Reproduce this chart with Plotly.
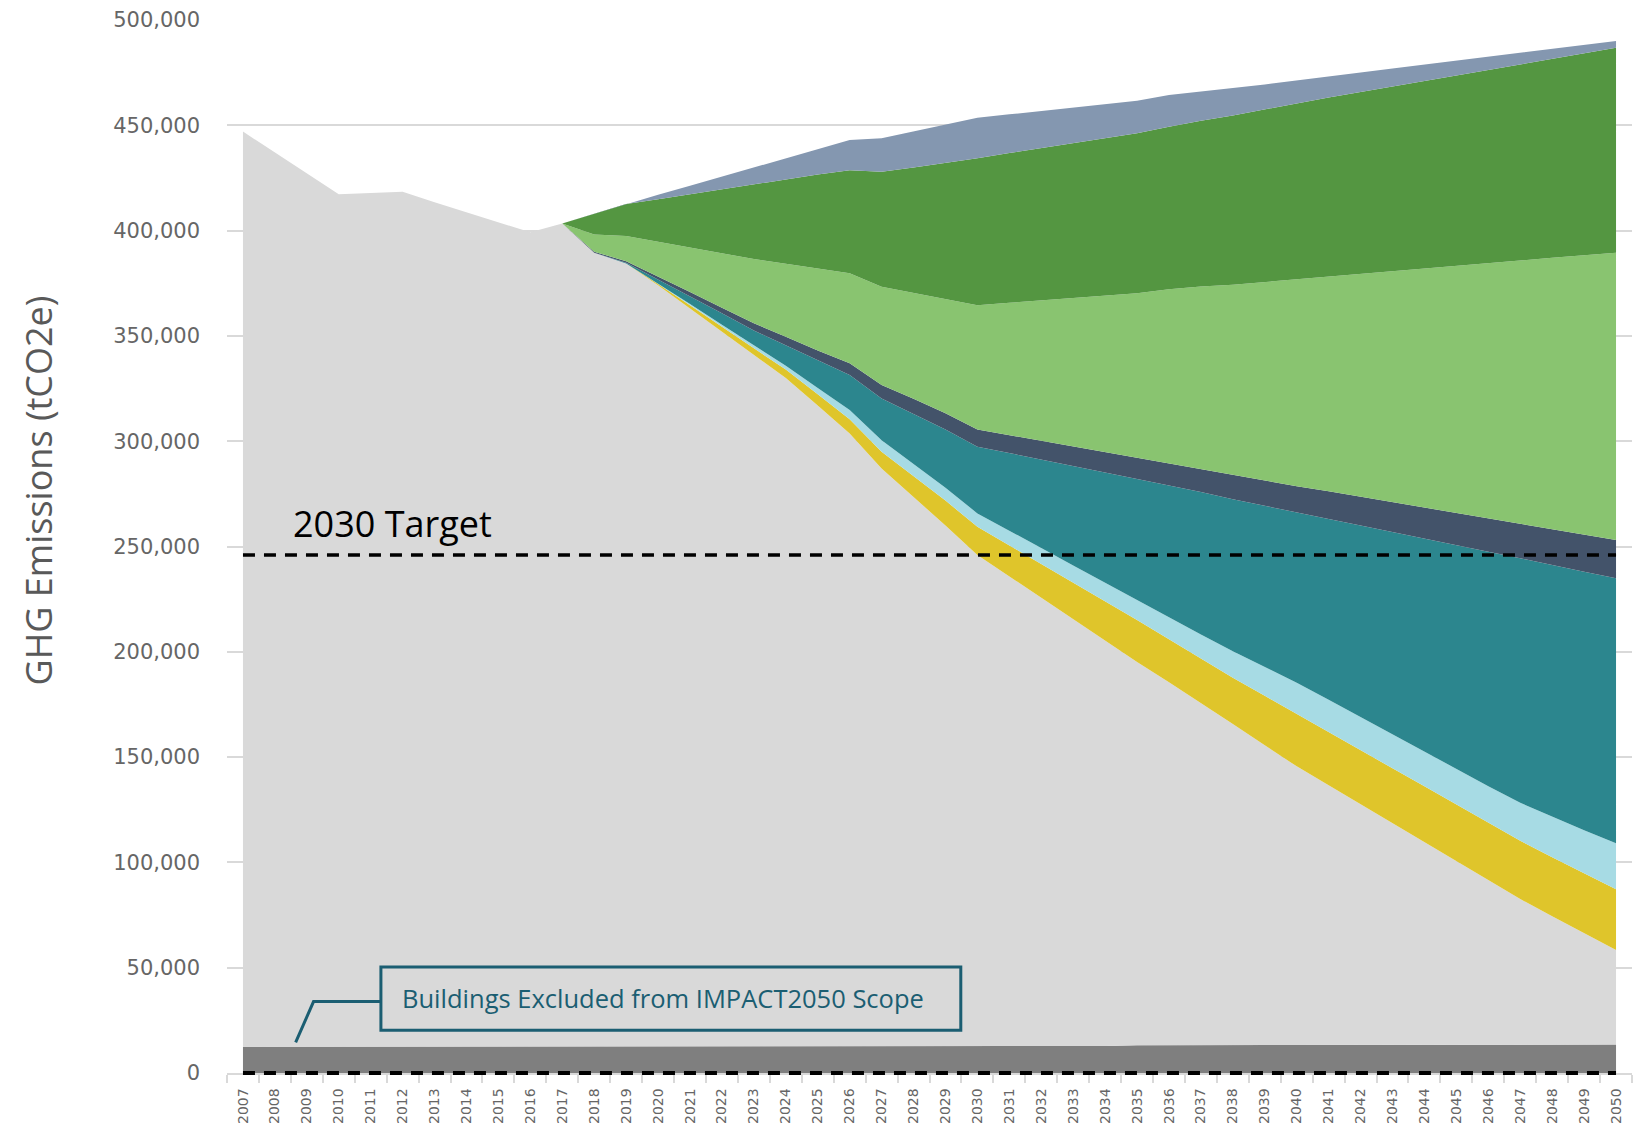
import plotly.graph_objects as go

# ---------------- data (tCO2e, values in thousands) ----------------
years = list(range(2007, 2051))
year_labels = [str(y) for y in years]

excluded_k = [12.5] * 11 + [12.8] * 17 + [13.2] * 12 + [13.5] * 4

remaining_k = [434.5, 424.5, 414.7, 404.8, 405.3, 405.9, 401.0, 396.2, 391.5, 386.7, 390.9,
               376.7, 371.6, 361.2, 350.2, 339.2, 328.2, 317.2, 304.2, 290.9, 274.2, 260.7,
               247.2, 233.2, 223.0, 212.9, 202.6, 192.4, 182.0, 172.3, 162.6, 152.5, 142.4,
               132.4, 123.4, 114.4, 105.3, 96.3, 87.5, 78.4, 69.1, 60.9, 52.8, 44.9]

yellow_k = [0] * 11 + [0, 0, 0.7, 1.5, 2.3, 3.1, 4.0, 5.3, 6.7, 8.0, 10.0, 11.8, 13.4, 14.8, 16.0,
                       17.4, 18.7, 19.9, 20.4, 20.9, 22.0, 23.5, 25.0, 25.4, 25.8, 26.2, 26.6, 26.9,
                       27.3, 27.7, 28.1, 28.5, 28.8]

lightblue_k = [0] * 11 + [0, 0, 0.3, 0.7, 1.0, 1.3, 1.8, 3.0, 4.4, 5.5, 5.8, 6.1, 6.3, 7.0, 7.6,
                          8.2, 8.8, 9.4, 10.3, 11.5, 12.6, 13.7, 14.7, 15.2, 15.6, 16.0, 16.4, 16.8,
                          17.3, 18.0, 19.2, 20.5, 21.9]

teal_k = [0] * 11 + [0, 0.3, 1.8, 3.6, 5.4, 7.2, 9.8, 13.0, 16.6, 19.8, 23.6, 27.6, 31.7, 36.8, 42.0,
                     47.2, 52.4, 57.6, 62.8, 67.7, 72.1, 76.4, 80.8, 85.9, 91.0, 96.1, 101.2, 106.2,
                     111.3, 116.1, 119.4, 122.7, 125.8]

navy_k = [0] * 11 + [0.5, 0.7, 1.4, 2.0, 2.7, 3.4, 4.0, 4.8, 5.6, 6.4, 7.2, 7.8, 8.2, 8.5, 8.9,
                     9.3, 9.6, 9.9, 10.3, 10.8, 11.4, 12.0, 12.5, 13.1, 13.6, 14.2, 14.8, 15.4,
                     16.0, 16.5, 17.1, 17.6, 18.2]

lightgreen_k = [0] * 11 + [8.2, 12.0, 16.5, 21.2, 25.8, 30.5, 34.6, 38.8, 42.7, 46.6, 50.3, 54.1,
                           59.0, 62.8, 66.7, 70.5, 74.4, 78.2, 82.8, 86.7, 90.5, 94.4, 98.2, 102.1,
                           105.9, 109.8, 113.6, 117.3, 121.2, 125.0, 128.9, 132.7, 136.4]

darkgreen_k = [0] * 11 + [9.8, 15.2, 20.2, 25.3, 30.4, 35.4, 40.0, 44.7, 49.0, 54.7, 59.6, 64.7,
                          69.8, 71.1, 72.2, 73.5, 74.7, 76.0, 77.2, 78.8, 80.4, 82.0, 83.6, 84.9,
                          86.3, 87.6, 89.0, 90.4, 91.8, 93.2, 94.5, 95.9, 97.3]

slate_k = [0] * 11 + [0, 0, 2.1, 4.0, 6.1, 8.2, 10.3, 12.3, 14.3, 15.8, 17.1, 18.3, 19.2, 18.4,
                      17.7, 16.9, 16.3, 15.5, 15.1, 14.0, 13.0, 11.8, 10.8, 10.1, 9.3, 8.6, 7.8,
                      7.1, 6.2, 5.5, 4.7, 4.0, 3.2]

target_2030 = 246000
y_ticks = [0, 50000, 100000, 150000, 200000, 250000, 300000, 350000, 400000, 450000, 500000]

layers = [
    (excluded_k, "#7f7f7f"),
    (remaining_k, "#d9d9d9"),
    (yellow_k, "#dfc52b"),
    (lightblue_k, "#a7dbe4"),
    (teal_k, "#2c868e"),
    (navy_k, "#43536a"),
    (lightgreen_k, "#89c470"),
    (darkgreen_k, "#549641"),
    (slate_k, "#8497b0"),
]

x_range = [years[0] - 0.5, years[-1] + 0.5]

fig = go.Figure()
for vals, col in layers:
    fig.add_trace(go.Scatter(
        x=years, y=[v * 1000 for v in vals], mode="lines", stackgroup="one",
        line=dict(width=0, color=col), fillcolor=col, hoverinfo="skip", showlegend=False))

dash_style = dict(color="black", width=3.5, dash="12px,9px")
# 2030 target dashed line
fig.add_trace(go.Scatter(x=[years[0], years[-1]], y=[target_2030, target_2030], mode="lines",
                         line=dash_style, hoverinfo="skip", showlegend=False))
# zero baseline dashed line (paper coords so it is not clipped at the plot edge)
span = x_range[1] - x_range[0]
fig.add_shape(type="line", xref="paper", yref="paper",
              x0=(years[0] - x_range[0]) / span, x1=(years[-1] - x_range[0]) / span, y0=0, y1=0,
              line=dict(color="black", width=4, dash="12px,9px"), layer="above")

box_col = "#1b5e72"
fig.add_shape(type="rect", xref="x", yref="y", x0=2011.32, x1=2029.48, y0=20300, y1=50300,
              line=dict(color=box_col, width=3), fillcolor="rgba(0,0,0,0)", layer="above")
fig.add_shape(type="path", xref="x", yref="y",
              path="M 2011.32 33900 L 2009.21 33900 L 2008.65 14500",
              line=dict(color=box_col, width=3), layer="above")

fig.add_annotation(x=2020.15, y=35600, xref="x", yref="y", text="Buildings Excluded from IMPACT2050 Scope",
                   showarrow=False, font=dict(family="Open Sans", size=25.5, color=box_col))
fig.add_annotation(x=2008.5, y=261000, xref="x", yref="y", text="2030 Target", xanchor="left",
                   yanchor="middle", showarrow=False, font=dict(family="Open Sans", size=36, color="black"))
fig.add_annotation(x=-0.134, y=0.553, xref="paper", yref="paper", text="GHG Emissions (tCO2e)",
                   textangle=-90, showarrow=False, xanchor="center", yanchor="middle",
                   font=dict(family="Open Sans", size=36, color="#595959"))

fig.update_layout(
    width=1650, height=1130,
    margin=dict(l=227, r=18, t=20, b=57, autoexpand=False),
    plot_bgcolor="white", paper_bgcolor="white",
    showlegend=False,
    xaxis=dict(range=x_range, tickmode="array", tickvals=years, ticktext=year_labels,
               tickangle=-90, tickfont=dict(family="DejaVu Sans", size=14, color="#666666"),
               showgrid=False, zeroline=False, showline=True, linecolor="#d9d9d9", linewidth=1.5,
               ticks="", ticklabelstandoff=8, automargin=False,
               minor=dict(ticks="outside", ticklen=8, tickwidth=1.5, tickcolor="#d9d9d9",
                          tickmode="linear", tick0=x_range[0], dtick=1, showgrid=False)),
    yaxis=dict(range=[0, 500000], tickmode="array", tickvals=y_ticks, tickformat=",",
               tickfont=dict(family="DejaVu Sans", size=21, color="#666666"),
               showgrid=True, gridcolor="#d9d9d9", gridwidth=1.5, zeroline=False,
               showline=False, ticks="", ticklabelstandoff=26, automargin=False),
)

fig.write_html("out.html", post_script="document.body.style.margin='0';",
               config={"displayModeBar": False})
